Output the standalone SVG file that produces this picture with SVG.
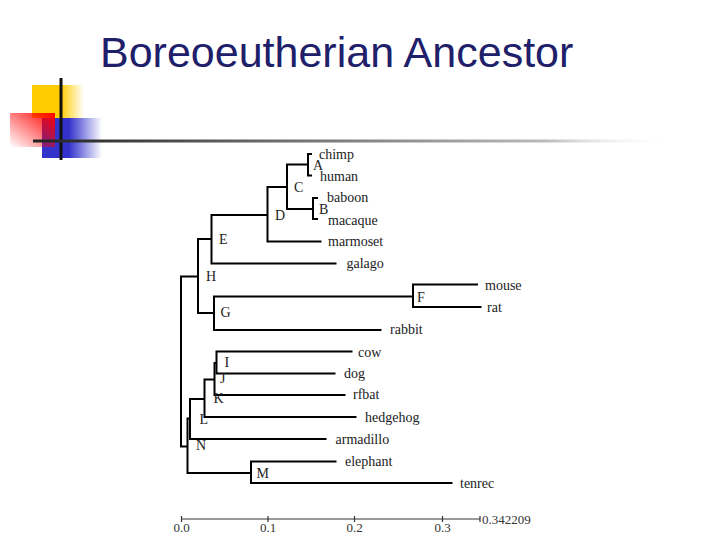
<svg xmlns="http://www.w3.org/2000/svg" width="720" height="540" viewBox="0 0 720 540">
<defs>
<linearGradient id="gy" x1="0" y1="0" x2="1" y2="0"><stop offset="0" stop-color="#ffcc00"/><stop offset="0.55" stop-color="#ffcc00"/><stop offset="1" stop-color="#ffcc00" stop-opacity="0"/></linearGradient>
<linearGradient id="gb" x1="0" y1="0" x2="1" y2="0"><stop offset="0" stop-color="#3333cc"/><stop offset="0.45" stop-color="#3333cc"/><stop offset="1" stop-color="#3333cc" stop-opacity="0"/></linearGradient>
<linearGradient id="gr" x1="1" y1="0" x2="0" y2="1"><stop offset="0" stop-color="#ff0000"/><stop offset="1" stop-color="#ff0000" stop-opacity="0"/></linearGradient>
<linearGradient id="gl" x1="0" y1="0" x2="1" y2="0"><stop offset="0" stop-color="#222222"/><stop offset="0.35" stop-color="#666666"/><stop offset="0.8" stop-color="#bbbbbb"/><stop offset="1" stop-color="#ffffff" stop-opacity="0"/></linearGradient>
<style>
.t{font-family:"Liberation Serif","Times New Roman",serif;font-size:14px;fill:#222}
.n{font-family:"Liberation Serif","Times New Roman",serif;font-size:14px;fill:#222}
.ax{font-family:"Liberation Serif","Times New Roman",serif;font-size:13px;fill:#333}
.e{fill:none;stroke:#000;stroke-width:2}
</style>
</defs>
<rect width="720" height="540" fill="#fff"/>
<g id="decor">
<rect x="32" y="85" width="52" height="33" fill="url(#gy)"/>
<rect x="42" y="118" width="60" height="40" fill="url(#gb)"/>
<rect x="10" y="113" width="45" height="34" fill="url(#gr)"/>
<line x1="61" y1="78" x2="61" y2="160" stroke="#111" stroke-width="3"/>
<rect x="33" y="139.5" width="640" height="3" fill="url(#gl)"/>
</g>
<text id="title" x="100" y="67" font-family="'Liberation Sans',Arial,sans-serif" font-size="43" fill="#20206a">Boreoeutherian Ancestor</text>
<g id="connectors" class="e">
<path class="e" d="M312,154 H308 V175.5 H312"/>
<path class="e" d="M308,164.5 H287 V209 H313"/>
<path class="e" d="M318,198 H313 V219 H318"/>
<path class="e" d="M287,187 H267.5 V241.5 H321.5"/>
<path class="e" d="M267.5,215 H211.5 V263.5 H336.5"/>
<path class="e" d="M211.5,239 H198 V313 H214"/>
<path class="e" d="M478,284.5 H413 V307 H481.5"/>
<path class="e" d="M413,296.5 H214 V330 H381.5"/>
<path class="e" d="M198,276.5 H181 V446.5 H187.5"/>
<path class="e" d="M352.5,351.5 H216.5 V373.5 H335.5"/>
<path class="e" d="M216.5,363 H214.5 V395 H345.5"/>
<path class="e" d="M214.5,379.5 H204.5 V417 H356.5"/>
<path class="e" d="M204.5,399 H190 V439 H326.5"/>
<path class="e" d="M190,418.5 H187.5 V473 H251"/>
<path class="e" d="M336.5,461.5 H251 V483 H452.5"/>
</g>
<g id="leaves">
<text class="t" x="319" y="159">chimp</text>
<text class="t" x="320" y="181">human</text>
<text class="t" x="327" y="202">baboon</text>
<text class="t" x="328" y="225">macaque</text>
<text class="t" x="328" y="246">marmoset</text>
<text class="t" x="346.5" y="268">galago</text>
<text class="t" x="485" y="290">mouse</text>
<text class="t" x="487" y="312">rat</text>
<text class="t" x="390" y="334">rabbit</text>
<text class="t" x="358" y="356.5">cow</text>
<text class="t" x="344" y="378">dog</text>
<text class="t" x="353" y="399">rfbat</text>
<text class="t" x="365" y="422">hedgehog</text>
<text class="t" x="335.5" y="444">armadillo</text>
<text class="t" x="345" y="466">elephant</text>
<text class="t" x="460" y="488">tenrec</text>
</g>
<g id="internal">
<text class="n" x="313" y="169.5">A</text>
<text class="n" x="294" y="192">C</text>
<text class="n" x="319" y="213.5">B</text>
<text class="n" x="275" y="220">D</text>
<text class="n" x="219" y="244">E</text>
<text class="n" x="206" y="281">H</text>
<text class="n" x="220.5" y="317">G</text>
<text class="n" x="417" y="302">F</text>
<text class="n" x="224.5" y="367">I</text>
<text class="n" x="220" y="383">J</text>
<text class="n" x="213.5" y="403">K</text>
<text class="n" x="199.5" y="424">L</text>
<text class="n" x="196" y="450">N</text>
<text class="n" x="256.5" y="478">M</text>
</g>
<g id="axis">
<path d="M181.5,519 H480 M181.5,516 V522 M268,516 V522 M354.5,516 V522 M442.5,516 V522 M480,516 V522" fill="none" stroke="#333" stroke-width="1.2"/>
<text class="ax" x="181.5" y="532" text-anchor="middle">0.0</text>
<text class="ax" x="268" y="532" text-anchor="middle">0.1</text>
<text class="ax" x="354.5" y="532" text-anchor="middle">0.2</text>
<text class="ax" x="442.5" y="532" text-anchor="middle">0.3</text>
<text class="ax" x="482" y="524">0.342209</text>
</g>
</svg>
